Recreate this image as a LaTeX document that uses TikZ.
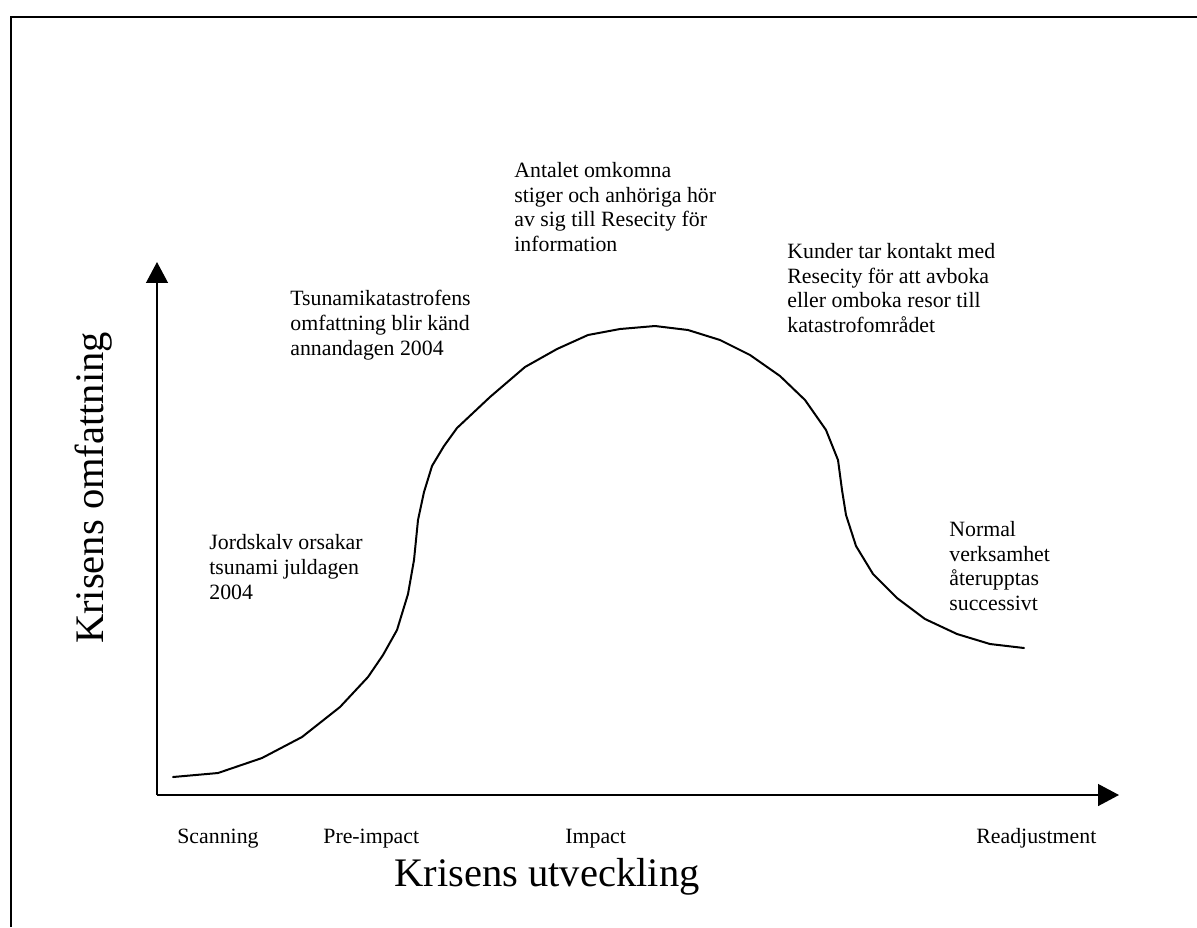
\documentclass[tikz,border=0pt]{standalone}
\usepackage{fontspec}
\setmainfont{Liberation Serif}
\usetikzlibrary{arrows.meta}
\tikzset{
  note/.style={anchor=base west, inner sep=0pt, align=left,
    font=\fontsize{12}{13.5}\selectfont},
  tick/.style={anchor=base west, inner sep=0pt, font=\fontsize{12}{13.5}\selectfont},
  title/.style={inner sep=0pt, font=\fontsize{22.3}{26}\selectfont},
  axis/.style={line width=0.9pt, -{Triangle[length=11.5pt,width=12pt]}},
  curve/.style={line width=1.1pt, line join=round, line cap=round},
  frame/.style={line width=1.2pt}
}
\begin{document}
\begin{tikzpicture}[x=0.55pt,y=-0.55pt]
\useasboundingbox (0,0) rectangle (1197,927);
% outer frame (top and left edges)
\draw[frame] (11,927) -- (11,17) -- (1197,17);

% axes
\coordinate (O) at (157,795);
\coordinate (Ytip) at (157,262);
\coordinate (Xtip) at (1119,795);
\draw[axis] (O) -- (Ytip);
\draw[axis] (O) -- (Xtip);

% crisis curve
\draw[curve] (173,777) -- (218,773) -- (262,758) -- (302,737) -- (340,707)
  -- (368,677) -- (383,655) -- (397,630) -- (408,594) -- (414,560)
  -- (418,520) -- (424,492) -- (432,466) -- (444,446) -- (457,428)
  -- (490,397) -- (525,367) -- (557,349) -- (588,335) -- (620,329)
  -- (655,326) -- (688,330) -- (720,340) -- (750,355) -- (780,376)
  -- (805,400) -- (826,430) -- (838,460) -- (842,490) -- (846,515)
  -- (856,546) -- (873,574) -- (897,598) -- (925,619) -- (957,634)
  -- (990,644) -- (1024,648);

% event notes (placed at the baseline of their last line)
\node[note] (n1) at (209,599) {Jordskalv orsakar\\tsunami juldagen\\2004};
\node[note] (n2) at (290,355) {Tsunamikatastrofens\\omfattning blir känd\\annandagen 2004};
\node[note] (n3) at (514,251.5) {Antalet omkomna\\stiger och anhöriga hör\\av sig till Resecity för\\information};
\node[note] (n4) at (787,332.5) {Kunder tar kontakt med\\Resecity för att avboka\\eller omboka resor till\\katastrofområdet};
\node[note] (n5) at (949,610.5) {Normal\\verksamhet\\återupptas\\successivt};

% phase labels
\node[tick] (p1) at (177,843) {Scanning};
\node[tick] (p2) at (323,843) {Pre-impact};
\node[tick] (p3) at (565,843) {Impact};
\node[tick] (p4) at (976,843) {Readjustment};

% axis titles
\node[title, anchor=base] (xt) at (547,886) {Krisens utveckling};
\node[title, anchor=base, rotate=90] (yt) at (103,488) {Krisens omfattning};
\end{tikzpicture}
\end{document}
